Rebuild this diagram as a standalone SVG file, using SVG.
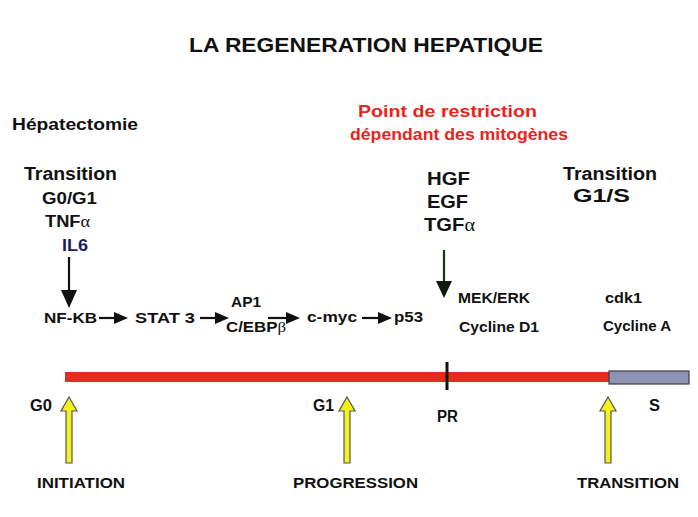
<svg xmlns="http://www.w3.org/2000/svg" width="698" height="517" viewBox="0 0 698 517">
<style>
text{font-family:"Liberation Sans",Arial,sans-serif;font-weight:bold;fill:#111;}
.t18{font-size:18px}
.t16{font-size:16px}
.t14{font-size:15px}
.red{fill:#e8251c;font-size:17px}
.greek{font-family:"Liberation Serif","DejaVu Serif",serif;font-weight:normal}
.blk{stroke:#111;stroke-width:2.2;fill:none}
.head{fill:#111}
.yarrow{fill:#f5f020;stroke:#555;stroke-width:1.2}
</style>
<rect width="698" height="517" fill="#fff"/>
<text id="title" x="189" y="52" font-size="21" textLength="354" lengthAdjust="spacingAndGlyphs">LA REGENERATION HEPATIQUE</text>
<g id="hepatectomie"><text class="t16" x="12" y="130" textLength="126" lengthAdjust="spacingAndGlyphs">Hépatectomie</text></g>
<g id="transition-g0g1">
<text class="t18" x="24" y="180" textLength="93" lengthAdjust="spacingAndGlyphs">Transition</text>
<text class="t16" x="42" y="204" textLength="55" lengthAdjust="spacingAndGlyphs">G0/G1</text>
<text class="t16" x="45" y="227" textLength="45" lengthAdjust="spacingAndGlyphs">TNF<tspan class="greek">α</tspan></text>
<text class="t16" x="62" y="251" textLength="26" lengthAdjust="spacingAndGlyphs" style="fill:#1c1c5c">IL6</text>
</g>
<g id="restriction">
<text class="red" x="358" y="117" textLength="179" lengthAdjust="spacingAndGlyphs">Point de restriction</text>
<text class="red" x="350" y="140" textLength="218" lengthAdjust="spacingAndGlyphs">dépendant des mitogènes</text>
</g>
<g id="mitogenes">
<text class="t18" x="427" y="185" textLength="43" lengthAdjust="spacingAndGlyphs">HGF</text>
<text class="t18" x="427" y="208" textLength="41" lengthAdjust="spacingAndGlyphs">EGF</text>
<text class="t18" x="424" y="231" textLength="51" lengthAdjust="spacingAndGlyphs">TGF<tspan class="greek">α</tspan></text>
</g>
<g id="transition-g1s">
<text class="t18" x="563" y="180" textLength="94" lengthAdjust="spacingAndGlyphs">Transition</text>
<text class="t18" x="573" y="202" textLength="57" lengthAdjust="spacingAndGlyphs">G1/S</text>
</g>
<g id="nfkb"><text class="t14" x="44" y="323" textLength="53" lengthAdjust="spacingAndGlyphs">NF-KB</text></g>
<g id="stat3"><text class="t14" x="135" y="323" textLength="60" lengthAdjust="spacingAndGlyphs">STAT 3</text></g>
<g id="ap1">
<text class="t14" x="231" y="307" textLength="30" lengthAdjust="spacingAndGlyphs">AP1</text>
<text class="t14" x="226" y="332" textLength="60" lengthAdjust="spacingAndGlyphs">C/EBP<tspan class="greek">β</tspan></text>
</g>
<g id="cmyc"><text class="t14" x="307" y="322" textLength="50" lengthAdjust="spacingAndGlyphs">c-myc</text></g>
<g id="p53"><text class="t14" x="394" y="322" textLength="29" lengthAdjust="spacingAndGlyphs">p53</text></g>
<g id="mekerk">
<text class="t14" x="458" y="303" textLength="72" lengthAdjust="spacingAndGlyphs">MEK/ERK</text>
<text class="t14" x="459" y="332" textLength="80" lengthAdjust="spacingAndGlyphs">Cycline D1</text>
</g>
<g id="cdk1">
<text class="t14" x="605" y="303" textLength="37" lengthAdjust="spacingAndGlyphs">cdk1</text>
<text class="t14" x="603" y="331" textLength="68" lengthAdjust="spacingAndGlyphs">Cycline A</text>
</g>
<g id="connectors">
<line class="blk" x1="69" y1="257" x2="69" y2="292"/>
<polygon class="head" points="61,290 77,290 69,308"/>
<line class="blk" style="stroke:#1a331a" x1="444" y1="250" x2="444" y2="283"/>
<polygon class="head" style="fill:#101a10" points="436,281 452,281 444,298"/>
<line class="blk" x1="99" y1="318" x2="116" y2="318"/>
<polygon class="head" points="114,312 114,324 128,318"/>
<line class="blk" x1="200" y1="318" x2="217" y2="318"/>
<polygon class="head" points="215,312 215,324 229,318"/>
<line class="blk" x1="268" y1="318" x2="288" y2="318"/>
<polygon class="head" points="286,312 286,324 300,318"/>
<line class="blk" x1="362" y1="318" x2="380" y2="318"/>
<polygon class="head" points="378,312 378,324 392,318"/>
</g>
<g id="timeline">
<rect x="65" y="372" width="544" height="10" fill="#e8291d"/>
<rect x="609" y="371" width="80" height="13" fill="#8e93b4" stroke="#3a3a4a" stroke-width="1.2"/>
<line x1="447" y1="362" x2="447" y2="390" stroke="#111" stroke-width="3"/>
</g>
<g id="phases">
<text class="t16" x="30" y="411" textLength="22" lengthAdjust="spacingAndGlyphs">G0</text>
<text class="t16" x="313" y="411" textLength="21" lengthAdjust="spacingAndGlyphs">G1</text>
<text class="t16" x="437" y="422" textLength="21" lengthAdjust="spacingAndGlyphs">PR</text>
<text class="t16" x="649" y="411" textLength="11" lengthAdjust="spacingAndGlyphs">S</text>
</g>
<g id="yellow-arrows">
<polygon class="yarrow" points="69,397 77,411 72,411 72,463 66,463 66,411 61,411"/>
<polygon class="yarrow" points="347,397 355,411 350,411 350,463 344,463 344,411 339,411"/>
<polygon class="yarrow" points="608,397 616,411 611,411 611,463 605,463 605,411 600,411"/>
</g>
<g id="stages">
<text class="t14" x="37" y="488" textLength="88" lengthAdjust="spacingAndGlyphs">INITIATION</text>
<text class="t14" x="293" y="488" textLength="125" lengthAdjust="spacingAndGlyphs">PROGRESSION</text>
<text class="t14" x="577" y="488" textLength="102" lengthAdjust="spacingAndGlyphs">TRANSITION</text>
</g>
</svg>
